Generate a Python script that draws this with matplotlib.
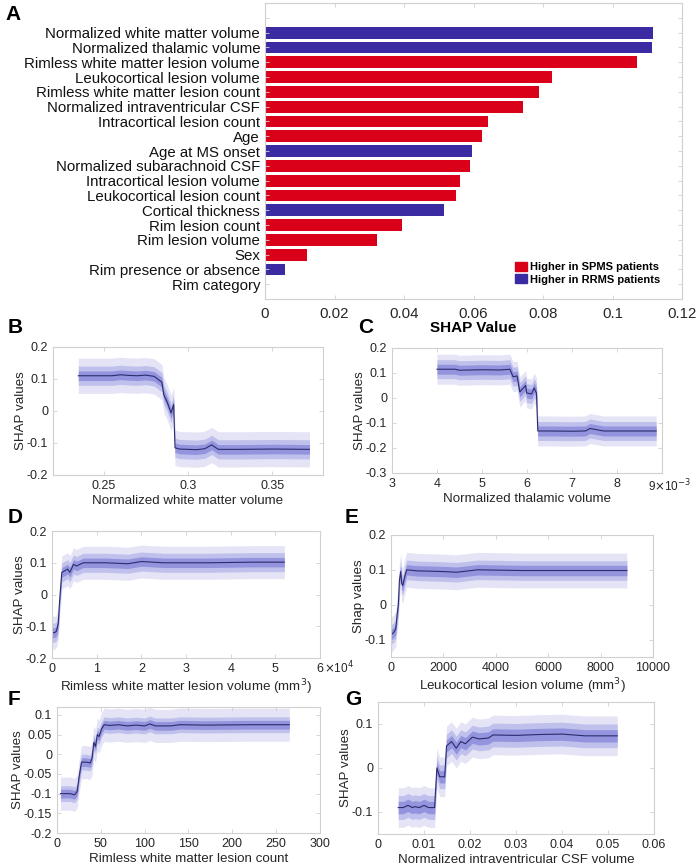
import matplotlib
matplotlib.use('Agg')
import matplotlib.pyplot as plt
from matplotlib.patches import Patch
import numpy as np

plt.rcParams['font.family'] = ['Liberation Sans', 'DejaVu Sans']
plt.rcParams['axes.unicode_minus'] = False

# ---- panel A: mean |SHAP| per feature ----
features = ['Normalized white matter volume', 'Normalized thalamic volume',
            'Rimless white matter lesion volume', 'Leukocortical lesion volume',
            'Rimless white matter lesion count', 'Normalized intraventricular CSF',
            'Intracortical lesion count', 'Age', 'Age at MS onset',
            'Normalized subarachnoid CSF', 'Intracortical lesion volume',
            'Leukocortical lesion count', 'Cortical thickness', 'Rim lesion count',
            'Rim lesion volume', 'Sex', 'Rim presence or absence', 'Rim category']
shap_vals = [0.1117, 0.1113, 0.1070, 0.0827, 0.0788, 0.0741, 0.0641, 0.0624, 0.0595,
             0.0589, 0.0561, 0.0550, 0.0514, 0.0395, 0.0321, 0.0121, 0.0057, 0.0]
higher_in = ['RRMS', 'RRMS', 'SPMS', 'SPMS', 'SPMS', 'SPMS', 'SPMS', 'SPMS', 'RRMS',
             'SPMS', 'SPMS', 'SPMS', 'RRMS', 'SPMS', 'SPMS', 'SPMS', 'RRMS', 'SPMS']

# ---- dependence curves (x, median SHAP) + band half widths (inner, mid, outer) ----
b_x = [0.235, 0.245, 0.255, 0.26, 0.265, 0.27, 0.275, 0.28, 0.2827, 0.2845, 0.2857,
       0.2875, 0.29, 0.2915, 0.2923, 0.295, 0.30, 0.305, 0.31, 0.314, 0.318, 0.33, 0.35, 0.372]
b_y = [0.11, 0.11, 0.11, 0.113, 0.111, 0.11, 0.112, 0.108, 0.097, 0.09, 0.05,
       0.03, -0.006, 0.02, -0.115, -0.119, -0.12, -0.121, -0.118, -0.106, -0.12, -0.12, -0.119, -0.12]
b_w = [0.015, 0.03, 0.055]

c_x = [4.0e-3, 4.4e-3, 4.5e-3, 5.0e-3, 5.4e-3, 5.62e-3, 5.69e-3, 5.78e-3, 5.84e-3,
       5.97e-3, 5.99e-3, 6.1e-3, 6.16e-3, 6.21e-3, 6.24e-3, 6.5e-3, 7.0e-3, 7.3e-3,
       7.4e-3, 7.7e-3, 8.2e-3, 8.87e-3]
c_y = [0.115, 0.115, 0.111, 0.113, 0.112, 0.115, 0.085, 0.088, 0.024,
       0.05, 0.02, 0.016, 0.04, 0.02, -0.132, -0.132, -0.133, -0.132,
       -0.122, -0.132, -0.132, -0.132]
c_w = [0.02, 0.038, 0.06]

d_x = [100, 600, 1000, 1400, 1700, 2200, 2900, 3500, 4000, 4800, 5500, 7000,
       12000, 17000, 20000, 25000, 35000, 45000, 52000]
d_y = [-0.12, -0.12, -0.115, -0.09, -0.02, 0.07, 0.075, 0.08, 0.07, 0.095, 0.09, 0.1,
       0.1, 0.097, 0.104, 0.1, 0.1, 0.102, 0.102]
d_w = [0.015, 0.03, 0.052]

e_x = [20, 100, 180, 230, 280, 320, 370, 410, 450, 520, 600, 1000, 2000, 2500,
       3300, 5000, 7000, 9000]
e_y = [-0.085, -0.08, -0.07, -0.03, 0.0, 0.07, 0.095, 0.06, 0.055, 0.08, 0.1, 0.097,
       0.095, 0.093, 0.1, 0.098, 0.098, 0.098]
e_w = [0.015, 0.028, 0.05]

f_x = [4, 10, 15, 20, 23, 25, 28, 33, 38, 40, 42, 44, 46, 48, 51, 54, 60, 70, 80,
       90, 100, 106, 112, 130, 140, 170, 220, 265]
f_y = [-0.1, -0.1, -0.1, -0.103, -0.095, -0.06, -0.02, -0.02, -0.022, -0.01, 0.03,
       0.02, 0.05, 0.045, 0.065, 0.075, 0.073, 0.075, 0.072, 0.074, 0.072, 0.077,
       0.072, 0.072, 0.075, 0.074, 0.075, 0.075]
f_w = [0.011, 0.02, 0.042]

g_x = [0.0044, 0.0055, 0.0065, 0.0075, 0.008, 0.009, 0.01, 0.011, 0.0123, 0.0128,
       0.0134, 0.0145, 0.0149, 0.016, 0.017, 0.018, 0.019, 0.0205, 0.022, 0.024,
       0.025, 0.03, 0.035, 0.04, 0.045, 0.052]
g_y = [-0.09, -0.09, -0.085, -0.09, -0.088, -0.09, -0.085, -0.09, -0.09, 0.0,
       -0.02, -0.02, 0.05, 0.06, 0.045, 0.06, 0.055, 0.07, 0.066, 0.068,
       0.075, 0.074, 0.076, 0.077, 0.073, 0.073]
g_w = [0.014, 0.027, 0.045]

red = '#DB0019'
blue = '#3A2BA3'
band_cols = ['#9494DE', '#C0C0EC', '#E4E4F6']
line_col = '#2B2B6E'
box_col = '#D0D0D0'
txt_col = '#262626'

fig = plt.figure(figsize=(7, 8.68), dpi=100)


def style_axes(ax, fs=9):
    for s in ax.spines.values():
        s.set_color(box_col)
        s.set_linewidth(0.8)
    ax.tick_params(direction='in', length=3, width=0.6, color=box_col,
                   labelcolor=txt_col, labelsize=fs, top=True, right=True)


def fmt(v):
    return '%g' % (round(v, 3) + 0.0)


# ---- A ----
axA = fig.add_axes([0.3786, 0.6555, 0.5957, 0.341])
pos = np.arange(len(features), 0, -1)
cols = [blue if h == 'RRMS' else red for h in higher_in]
axA.barh(pos, shap_vals, height=0.8, color=cols)
axA.set_ylim(0, 20)
axA.set_xlim(0, 0.12)
axA.set_yticks(list(pos) + [19])
axA.set_yticklabels(features + [''], fontsize=10.8)
axA.set_xticks(np.arange(0, 0.121, 0.02))
axA.set_xticklabels(['0', '0.02', '0.04', '0.06', '0.08', '0.1', '0.12'], fontsize=10.8)
style_axes(axA, 10.8)
axA.tick_params(axis='y', labelcolor='#111111')
axA.tick_params(axis='x', pad=6)
axA.set_xlabel('SHAP Value', fontsize=11, fontweight='bold', labelpad=0)
axA.legend(handles=[Patch(color=red, label='Higher in SPMS patients'),
                    Patch(color=blue, label='Higher in RRMS patients')],
           loc='lower right', bbox_to_anchor=(0.96, 0.03), frameon=False, borderpad=0,
           prop={'weight': 'bold', 'size': 8}, handlelength=1.1, handleheight=0.9,
           handletextpad=0.2, labelspacing=0.15)


def dep_panel(rect, x, y, w, xlim, ylim, xticks, yticks, xlabel, ylabel,
              xticklabels=None):
    ax = fig.add_axes(rect)
    x = np.array(x)
    y = np.array(y)
    for k in (2, 1, 0):
        ax.fill_between(x, y - w[k], y + w[k], color=band_cols[k], lw=0)
    ax.plot(x, y, color=line_col, lw=0.8)
    ax.set_xlim(xlim)
    ax.set_ylim(ylim)
    ax.set_xticks(xticks)
    if xticklabels is not None:
        ax.set_xticklabels(xticklabels)
    else:
        ax.set_xticklabels([fmt(v) for v in xticks])
    ax.set_yticks(yticks)
    ax.set_yticklabels([fmt(v) for v in yticks])
    style_axes(ax, 9)
    ax.set_xlabel(xlabel, fontsize=9.6, color=txt_col, labelpad=2)
    ax.set_ylabel(ylabel, fontsize=9.6, color=txt_col, labelpad=0)
    return ax


axB = dep_panel([0.0757, 0.4528, 0.3857, 0.1475], b_x, b_y, b_w, (0.22, 0.38),
                (-0.2, 0.2), [0.25, 0.3, 0.35], np.arange(-0.2, 0.21, 0.1),
                'Normalized white matter volume', 'SHAP values')

# thalamic volume axis: last tick carries the exponent
c_ticks = np.arange(3, 10) * 1e-3
c_labels = ['%g' % round(v * 1e3) for v in c_ticks]
c_labels[-1] = ''
axC = dep_panel([0.56, 0.4551, 0.3857, 0.144], c_x, c_y, c_w, (3e-3, 9e-3),
                (-0.3, 0.2), c_ticks, np.arange(-0.3, 0.21, 0.1),
                'Normalized thalamic volume', 'SHAP values', c_labels)
axC.annotate(r'9$\times$10$^{-3}$', xy=(1, 0), xycoords='axes fraction',
             xytext=(-10, -3.5), textcoords='offset points', ha='left', va='top',
             fontsize=8.5, color=txt_col)

d_ticks = np.arange(0, 6.1, 1) * 1e4
axD = dep_panel([0.0743, 0.2419, 0.3829, 0.1463], d_x, d_y, d_w, (0, 6e4),
                (-0.2, 0.2), d_ticks, np.arange(-0.2, 0.21, 0.1),
                'Rimless white matter lesion volume (mm$^3$)', 'SHAP values',
                ['%g' % (v / 1e4) for v in d_ticks])
axD.annotate(r'$\times$10$^{4}$', xy=(1, 0), xycoords='axes fraction',
             xytext=(2.5, -1.5), textcoords='offset points', ha='left', va='top',
             fontsize=8.5, color=txt_col)

axE = dep_panel([0.5586, 0.2431, 0.3743, 0.1406], e_x, e_y, e_w, (0, 10000),
                (-0.15, 0.2), np.arange(0, 10001, 2000), [-0.1, 0, 0.1, 0.2],
                'Leukocortical lesion volume (mm$^3$)', 'Shap values')

axF = dep_panel([0.0814, 0.0403, 0.3757, 0.1452], f_x, f_y, f_w, (0, 300),
                (-0.2, 0.12), np.arange(0, 301, 50), np.arange(-0.2, 0.11, 0.05),
                'Rimless white matter lesion count', 'SHAP values')

axG = dep_panel([0.54, 0.0392, 0.3943, 0.1521], g_x, g_y, g_w, (0, 0.06),
                (-0.15, 0.15), np.arange(0, 0.061, 0.01), [-0.1, 0, 0.1],
                'Normalized intraventricular CSF volume', 'SHAP values')

# panel letters
for lab, xx, yy in [('A', 5, 5), ('B', 8, 318), ('C', 358, 318), ('D', 8, 508),
                    ('E', 345, 508), ('F', 8, 690), ('G', 345, 690)]:
    fig.text(xx / 700, 1 - yy / 868, lab, fontsize=15, fontweight='bold',
             va='top', ha='left')

fig.savefig('out.png', dpi=100)
